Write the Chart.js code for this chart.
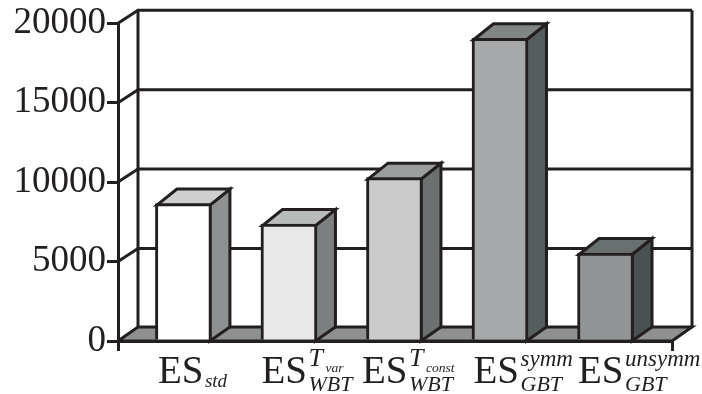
<!DOCTYPE html>
<html>
<head>
<meta charset="utf-8">
<script src="https://cdn.jsdelivr.net/npm/chart.js@4"></script>
<style>
  body { margin: 0; background: #fff; }
</style>
</head>
<body>
<canvas id="es-chart" width="702" height="394"></canvas>
<script>
// bar heights per estimator
const values = [8650, 7360, 10280, 19050, 5540];
const positions = [0, 1, 2, 3, 4];

// label pieces: ES with a subscript, a superscript and a tiny index on the superscript
const baseLabels = ['ES', 'ES', 'ES', 'ES', 'ES'];
const subLabels = ['std', 'WBT', 'WBT', 'GBT', 'GBT'];
const supLabels = ['', 'T', 'T', 'symm', 'unsymm'];
const supIndexLabels = ['', 'var', 'const', '', ''];

const frontColors = ['#ffffff', '#e8e8e8', '#cbcbcb', '#a7a8aa', '#929495'];
const topColors = ['#cfcfcf', '#b9baba', '#9c9e9e', '#818685', '#6a706f'];
const sideColors = ['#8f9091', '#7d8080', '#6c7070', '#565d5d', '#4a5152'];

const INK = '#231f20';
const LINE = 3;
const DEPTH_X = 20;      // how far the back wall sits to the right
const DEPTH_Y = 14;      // and how far up
const BAR_TOP_RISE = 16; // bar tops lean a bit more than the floor

function polygon(ctx, pts, fill) {
  ctx.beginPath();
  pts.forEach((p, i) => i ? ctx.lineTo(p[0], p[1]) : ctx.moveTo(p[0], p[1]));
  if (fill) {
    ctx.closePath();
    ctx.fillStyle = fill;
    ctx.fill();
  }
  ctx.stroke();
}

// walls, floor and the side and top faces of each bar
const boxPlugin = {
  id: 'box',
  beforeDatasetsDraw(chart) {
    const { ctx, scales: { x, y } } = chart;
    const left = x.left, right = x.right, floor = y.getPixelForValue(0);
    ctx.save();
    ctx.strokeStyle = INK;
    ctx.lineWidth = LINE;
    ctx.lineJoin = 'miter';

    // floor
    polygon(ctx, [[left, floor], [left + DEPTH_X, floor - DEPTH_Y], [right + DEPTH_X, floor - DEPTH_Y], [right, floor]], '#8f9090');

    // back wall grid, carried round the left wall
    y.ticks.forEach(t => {
      const py = y.getPixelForValue(t.value);
      if (t.value > 0) polygon(ctx, [[left, py], [left + DEPTH_X, py - DEPTH_Y + 1], [right + DEPTH_X, py - DEPTH_Y + 1]]);
    });
    const top = y.getPixelForValue(y.max) - DEPTH_Y + 1;
    polygon(ctx, [[left + DEPTH_X, floor - DEPTH_Y], [left + DEPTH_X, top]]);
    polygon(ctx, [[right + DEPTH_X, floor - DEPTH_Y], [right + DEPTH_X, top]]);

    chart.getDatasetMeta(0).data.forEach((bar, i) => {
      const half = bar.width / 2 - LINE / 2;
      const xl = bar.x - half, xr = bar.x + half, yt = bar.y + LINE / 2;
      polygon(ctx, [[xr, floor], [xr + DEPTH_X, floor - DEPTH_Y], [xr + DEPTH_X, yt - BAR_TOP_RISE], [xr, yt]], sideColors[i]);
      polygon(ctx, [[xl, yt], [xl + DEPTH_X, yt - BAR_TOP_RISE], [xr + DEPTH_X, yt - BAR_TOP_RISE], [xr, yt]], topColors[i]);
    });
    ctx.restore();
  },
  afterDraw(chart) {
    const { ctx, scales: { x } } = chart;
    const shifts = [1, -1, -6, 0, -1]; // the wider labels crowd each other, nudge them
    ctx.save();
    ctx.fillStyle = INK;
    ctx.textBaseline = 'alphabetic';
    ctx.textAlign = 'left';
    positions.forEach((p, i) => {
      const x0 = x.getPixelForValue(p) - 26.5 + shifts[i];
      ctx.font = '39px "Liberation Serif"';
      ctx.fillText(baseLabels[i], x0, 383);
      const sx = x0 + 47;
      if (supLabels[i]) {
        // a lone T is set larger than the longer superscripts
        ctx.font = supLabels[i].length === 1 ? 'italic 26px "Liberation Serif"' : 'italic 23px "Liberation Serif"';
        ctx.fillText(supLabels[i], sx, 366);
        ctx.font = 'italic 22px "Liberation Serif"';
        ctx.fillText(subLabels[i], sx, 391);
        if (supIndexLabels[i]) {
          ctx.font = 'italic 13.5px "Liberation Serif"';
          ctx.fillText(supIndexLabels[i], sx + 17, 372);
        }
      } else {
        ctx.font = 'italic 19px "Liberation Serif"';
        ctx.fillText(subLabels[i], sx, 387);
      }
    });
    ctx.restore();
  }
};

new Chart(document.getElementById('es-chart'), {
  type: 'bar',
  data: {
    labels: positions,
    datasets: [{
      data: positions.map((p, i) => ({ x: p, y: values[i] })),
      backgroundColor: frontColors,
      borderColor: INK,
      borderWidth: LINE,
      borderSkipped: 'bottom',
      barThickness: 56
    }]
  },
  options: {
    responsive: false,
    animation: false,
    clip: false,
    layout: { padding: { top: 23, right: 30, left: 0, bottom: 0 } },
    plugins: { legend: { display: false }, tooltip: { enabled: false } },
    scales: {
      x: {
        type: 'linear',
        offset: false,
        min: -0.62,
        max: 4.63,
        afterFit(scale) { scale.height = 53; },
        afterBuildTicks(scale) { scale.ticks = [{ value: scale.min }, { value: scale.max }]; },
        ticks: { display: false },
        border: { color: INK, width: LINE, z: 1 },
        grid: { offset: false, drawOnChartArea: false, color: INK, lineWidth: LINE, tickLength: 10, z: 1 }
      },
      y: {
        min: 0,
        max: 20000,
        afterFit(scale) { scale.width = 118; },
        ticks: {
          stepSize: 5000,
          color: INK,
          padding: 1,
          font: { family: '"Liberation Serif"', size: 37 },
          callback: v => String(v)
        },
        border: { color: INK, width: LINE, z: 1 },
        grid: { drawOnChartArea: false, color: INK, lineWidth: LINE, tickLength: 11, z: 1 }
      }
    }
  },
  plugins: [boxPlugin]
});
</script>
</body>
</html>
